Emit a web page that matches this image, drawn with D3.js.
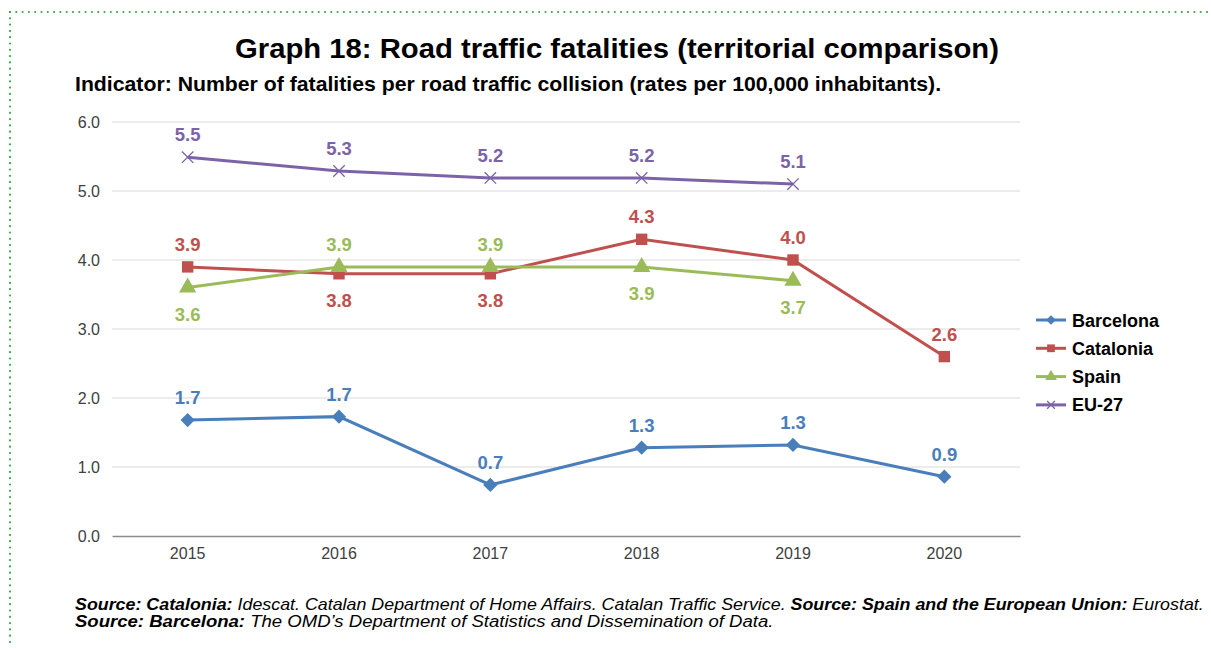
<!DOCTYPE html>
<html>
<head>
<meta charset="utf-8">
<script src="https://cdn.jsdelivr.net/npm/d3@7"></script>
<style>
  body { margin: 0; background: #fff; }
  svg text { font-family: "Liberation Sans", Arial, Helvetica, sans-serif; }
</style>
</head>
<body>
<div id="vis"></div>
<script>
var years = ['2015', '2016', '2017', '2018', '2019', '2020'];
var yTicks = [0, 1, 2, 3, 4, 5, 6];

var barcelona = [1.68, 1.73, 0.74, 1.28, 1.32, 0.86];
var catalonia = [3.9, 3.8, 3.8, 4.3, 4.0, 2.6];
var spain = [3.6, 3.9, 3.9, 3.9, 3.7, null];
var eu27 = [5.49, 5.29, 5.19, 5.19, 5.1, null];

// label placement: 1 = above the point, -1 = below
var barcelonaPos = [1, 1, 1, 1, 1, 1];
var cataloniaPos = [1, -1, -1, 1, 1, 1];
var spainPos = [-1, 1, 1, -1, -1, 0];
var eu27Pos = [1, 1, 1, 1, 1, 0];

var series = [
    {name: 'Barcelona', values: barcelona, pos: barcelonaPos, color: '#4a7ebb', symbol: 'diamond'},
    {name: 'Catalonia', values: catalonia, pos: cataloniaPos, color: '#c0504d', symbol: 'square'},
    {name: 'Spain', values: spain, pos: spainPos, color: '#9bbb59', symbol: 'triangle'},
    {name: 'EU-27', values: eu27, pos: eu27Pos, color: '#7c63a8', symbol: 'cross'}
];

var width = 1211;
var height = 648;
var margin = {left: 112, top: 122, right: 191, bottom: 112};
var drawWidth = width - margin.left - margin.right;
var drawHeight = height - margin.top - margin.bottom;

var svg = d3.select('#vis')
    .append('svg')
    .attr('width', width)
    .attr('height', height);

// dotted frame
svg.append('line')
    .attr('x1', 10).attr('y1', 12).attr('x2', 1211).attr('y2', 12)
    .attr('stroke', '#3aaa4a').attr('stroke-width', 2.2)
    .attr('stroke-linecap', 'round')
    .attr('stroke-dasharray', '0 6.3');
svg.append('line')
    .attr('x1', 10).attr('y1', 12).attr('x2', 10).attr('y2', 648)
    .attr('stroke', '#3aaa4a').attr('stroke-width', 2.2)
    .attr('stroke-linecap', 'round')
    .attr('stroke-dasharray', '0 6.3');

svg.append('g')
    .attr('transform', 'translate(617,58) scale(1.045,1)')
    .append('text')
    .attr('text-anchor', 'middle')
    .style('font-size', '28px').style('font-weight', 'bold')
    .text('Graph 18: Road traffic fatalities (territorial comparison)');

svg.append('g')
    .attr('transform', 'translate(75,91) scale(1.09,1)')
    .append('text')
    .style('font-size', '19.5px').style('font-weight', 'bold')
    .text('Indicator: Number of fatalities per road traffic collision (rates per 100,000 inhabitants).');

var g = svg.append('g')
    .attr('transform', 'translate(' + margin.left + ',' + margin.top + ')');

var xScale = d3.scaleBand().domain(years).range([0, drawWidth]);
var yScale = d3.scaleLinear().domain([0, 6]).range([drawHeight, 0]);
var cx = function(i) { return xScale(years[i]) + xScale.bandwidth() / 2; };

// gridlines
g.append('g')
    .selectAll('line')
    .data(yTicks.filter(function(d) { return d > 0; }))
    .enter().append('line')
    .attr('x1', 0).attr('x2', drawWidth)
    .attr('y1', function(d) { return yScale(d); })
    .attr('y2', function(d) { return yScale(d); })
    .attr('stroke', '#d9d9d9').attr('stroke-width', 1);

var yAxis = d3.axisLeft(yScale).tickValues(yTicks).tickFormat(d3.format('.1f')).tickSize(0).tickPadding(12);
var yAxisG = g.append('g').call(yAxis);
yAxisG.select('.domain').remove();
yAxisG.selectAll('text').style('font-size', '16px').attr('fill', '#404040').style('font-family', '"Liberation Sans", Arial, sans-serif');

var xAxis = d3.axisBottom(xScale).tickSize(0).tickPadding(12);
var xAxisG = g.append('g').attr('transform', 'translate(0,' + drawHeight + ')').call(xAxis);
xAxisG.select('.domain').attr('stroke', '#8c8c8c').attr('stroke-width', 1.3);
xAxisG.selectAll('text').style('font-size', '16px').attr('fill', '#404040').style('font-family', '"Liberation Sans", Arial, sans-serif');

var symbolPath = function(type, size) {
    var r = Math.sqrt(size) / 2;
    if (type === 'diamond') {
        var q = r * 1.25;
        return 'M0,' + (-q) + 'L' + q + ',0L0,' + q + 'L' + (-q) + ',0Z';
    }
    if (type === 'square') return d3.symbol().type(d3.symbolSquare).size(size)();
    if (type === 'triangle') return d3.symbol().type(d3.symbolTriangle).size(size)();
    return 'M' + (-r) + ',' + (-r) + 'L' + r + ',' + r + 'M' + (-r) + ',' + r + 'L' + r + ',' + (-r);
};

var line = d3.line()
    .defined(function(d) { return d != null; })
    .x(function(d, i) { return cx(i); })
    .y(function(d) { return yScale(d); });

series.forEach(function(s) {
    var sg = g.append('g');
    sg.append('path')
        .datum(s.values)
        .attr('d', line)
        .attr('fill', 'none')
        .attr('stroke', s.color)
        .attr('stroke-width', 3);

    var pts = s.values.map(function(v, i) { return {v: v, i: i}; })
        .filter(function(d) { return d.v != null; });

    sg.selectAll('path.mark')
        .data(pts)
        .enter().append('path')
        .attr('class', 'mark')
        .attr('transform', function(d) { return 'translate(' + cx(d.i) + ',' + yScale(d.v) + ')'; })
        .attr('d', symbolPath(s.symbol, 130))
        .attr('fill', s.symbol === 'cross' ? 'none' : s.color)
        .attr('stroke', s.color)
        .attr('stroke-width', s.symbol === 'cross' ? 1.3 : 0);

    sg.selectAll('text')
        .data(pts)
        .enter().append('text')
        .attr('x', function(d) { return cx(d.i); })
        .attr('y', function(d) {
            return s.pos[d.i] > 0 ? yScale(d.v) - 16 : yScale(d.v) + 33;
        })
        .attr('text-anchor', 'middle')
        .attr('fill', s.color)
        .style('font-size', '18.5px').style('font-weight', 'bold')
        .text(function(d) { return d3.format('.1f')(d.v); });
});

// legend
var legend = svg.append('g').attr('transform', 'translate(1036,320)');
var items = legend.selectAll('g')
    .data(series)
    .enter().append('g')
    .attr('transform', function(d, i) { return 'translate(0,' + (i * 28.3) + ')'; });
items.append('line')
    .attr('x1', 0).attr('x2', 30)
    .attr('stroke', function(d) { return d.color; })
    .attr('stroke-width', 3);
items.append('path')
    .attr('transform', 'translate(15,0)')
    .attr('d', function(d) { return symbolPath(d.symbol, 60); })
    .attr('fill', function(d) { return d.symbol === 'cross' ? 'none' : d.color; })
    .attr('stroke', function(d) { return d.color; })
    .attr('stroke-width', function(d) { return d.symbol === 'cross' ? 1.2 : 0; });
items.append('text')
    .attr('x', 36).attr('y', 6.5)
    .style('font-size', '18px').style('font-weight', 'bold')
    .text(function(d) { return d.name; });

// sources
var src1 = svg.append('g').attr('transform', 'translate(75,610) scale(1.115,1)')
    .append('text').style('font-size', '16px').style('font-style', 'italic');
src1.append('tspan').style('font-weight', 'bold').text('Source: Catalonia:');
src1.append('tspan').text(' Idescat. Catalan Department of Home Affairs. Catalan Traffic Service. ');
src1.append('tspan').style('font-weight', 'bold').text('Source: Spain and the European Union:');
src1.append('tspan').text(' Eurostat.');

var src2 = svg.append('g').attr('transform', 'translate(75,627) scale(1.16,1)')
    .append('text').style('font-size', '16px').style('font-style', 'italic');
src2.append('tspan').style('font-weight', 'bold').text('Source: Barcelona:');
src2.append('tspan').text(' The OMD\u2019s Department of Statistics and Dissemination of Data.');
</script>
</body>
</html>
